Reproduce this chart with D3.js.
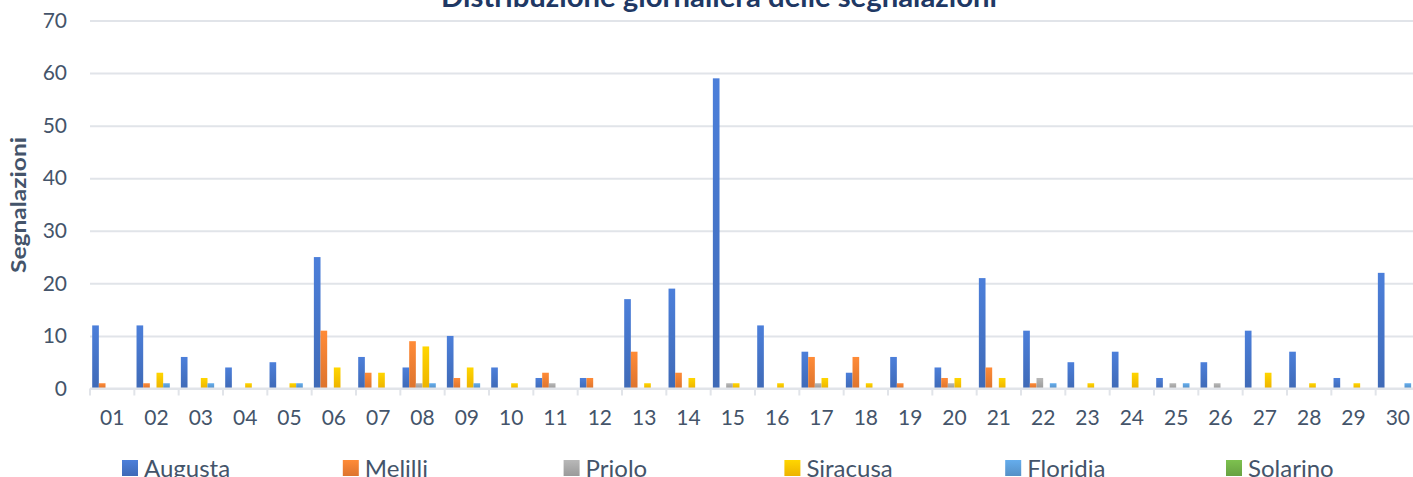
<!DOCTYPE html>
<html>
<head>
<meta charset="utf-8">
<script src="https://cdn.jsdelivr.net/npm/d3@7"></script>
<style>
  body { margin: 0; background: #fff; }
  svg text { font-family: Lato, "Open Sans", sans-serif; }
</style>
</head>
<body>
<script>
// data
var days = ["01","02","03","04","05","06","07","08","09","10","11","12","13","14","15",
            "16","17","18","19","20","21","22","23","24","25","26","27","28","29","30"];
var seriesNames = ["Augusta","Melilli","Priolo","Siracusa","Floridia","Solarino"];
var augusta  = [12,12,6,4,5,25,6,4,10,4,2,2,17,19,59,12,7,3,6,4,21,11,5,7,2,5,11,7,2,22];
var melilli  = [1,1,0,0,0,11,3,9,2,0,3,2,7,3,0,0,6,6,1,2,4,1,0,0,0,0,0,0,0,0];
var priolo   = [0,0,0,0,0,0,0,1,0,0,1,0,0,0,1,0,1,0,0,1,0,2,0,0,1,1,0,0,0,0];
var siracusa = [0,3,2,1,1,4,3,8,4,1,0,0,1,2,1,1,2,1,0,2,2,0,1,3,0,0,3,1,1,0];
var floridia = [0,1,1,0,1,0,0,1,1,0,0,0,0,0,0,0,0,0,0,0,0,1,0,0,1,0,0,0,0,1];
var solarino = [0,0,0,0,0,0,0,0,0,0,0,0,0,0,0,0,0,0,0,0,0,0,0,0,0,0,0,0,0,0];
var yTicks = [0,10,20,30,40,50,60,70];

var values = [augusta, melilli, priolo, siracusa, floridia, solarino];
var colors = ["#4472C4","#ED7D31","#A5A5A5","#FFC000","#5B9BD5","#70AD47"];

var w = 1413, h = 477;
// plot runs a bit past the right edge, as in the picture
var padLeft = 90, padRight = 1420, padTop = 20.5, padBottom = 388.5;

var svg = d3.select("body").append("svg")
            .attr("width", w)
            .attr("height", h);

// gradients like the office bars
var defs = svg.append("defs");
colors.forEach(function(c, i) {
  var g = defs.append("linearGradient")
              .attr("id", "grad" + i)
              .attr("x1", 0).attr("y1", 0).attr("x2", 0).attr("y2", 1);
  g.append("stop").attr("offset", "0%").attr("stop-color", d3.color(c).brighter(0.3));
  g.append("stop").attr("offset", "100%").attr("stop-color", d3.color(c).darker(0.2));
});

var xScale = d3.scaleBand().domain(days).range([padLeft, padRight]).paddingInner(0).paddingOuter(0);
var x1 = d3.scaleBand().domain(d3.range(seriesNames.length))
           .range([0, xScale.bandwidth()]).paddingInner(0).paddingOuter(0.33);
var yScale = d3.scaleLinear().domain([0, 70]).range([padBottom, padTop]);

/****Grid and y axis****/
var yAxis = d3.axisLeft(yScale)
              .tickValues(yTicks)
              .tickSize(-(w - padLeft))
              .tickPadding(23);
var gy = svg.append("g")
            .attr("transform", "translate(" + padLeft + ",0)")
            .call(yAxis);
gy.select(".domain").remove();
gy.selectAll(".tick line").attr("stroke", "#E1E4E9").attr("stroke-width", 2);
gy.selectAll(".tick text")
  .attr("fill", "#44546A")
  .attr("font-size", "21px")
  .attr("font-family", "Lato, sans-serif");

/****Bars****/
var groups = svg.selectAll("g.day")
                .data(days)
                .enter()
                .append("g")
                .attr("class", "day")
                .attr("transform", function(d) { return "translate(" + xScale(d) + ",0)"; });

groups.selectAll("rect")
      .data(function(d, i) {
        return values.map(function(s, k) { return {k: k, v: s[i]}; });
      })
      .enter()
      .append("rect")
      .attr("x", function(d) { return x1(d.k); })
      .attr("y", function(d) { return yScale(d.v); })
      .attr("width", x1.bandwidth())
      .attr("height", function(d) { return yScale(0) - yScale(d.v); })
      .attr("fill", function(d) { return "url(#grad" + d.k + ")"; });

/****x axis****/
var xAxis = d3.axisBottom(xScale).tickSize(0).tickPadding(22);
var gx = svg.append("g")
            .attr("transform", "translate(0," + padBottom + ")")
            .call(xAxis);
gx.select(".domain").attr("stroke", "#E1E4E9").attr("stroke-width", 2)
  .attr("d", "M" + padLeft + ",0H" + w);
gx.selectAll(".tick text")
  .attr("fill", "#44546A")
  .attr("font-size", "21px")
  .attr("font-family", "Lato, sans-serif");
// tick marks between categories
gx.selectAll("line.sep")
  .data(days)
  .enter()
  .append("line")
  .attr("class", "sep")
  .attr("x1", function(d) { return xScale(d); })
  .attr("x2", function(d) { return xScale(d); })
  .attr("y1", 0).attr("y2", 7)
  .attr("stroke", "#E1E4E9").attr("stroke-width", 2);

/****Titles****/
svg.append("text")
   .attr("x", 719).attr("y", 7)
   .attr("text-anchor", "middle")
   .attr("font-size", "28px")
   .attr("font-weight", "bold")
   .attr("fill", "#203864")
   .attr("textLength", 556)
   .attr("lengthAdjust", "spacingAndGlyphs")
   .text("Distribuzione giornaliera delle segnalazioni");

svg.append("text")
   .attr("transform", "translate(26,205) rotate(-90)")
   .attr("text-anchor", "middle")
   .attr("font-size", "21px")
   .attr("font-weight", "bold")
   .attr("fill", "#44546A")
   .attr("textLength", 136)
   .attr("lengthAdjust", "spacingAndGlyphs")
   .text("Segnalazioni");

/****Legend****/
var legX = d3.scaleLinear().domain([0, 5]).range([122, 1226]);
var leg = svg.selectAll("g.leg")
             .data(seriesNames)
             .enter()
             .append("g")
             .attr("class", "leg")
             .attr("transform", function(d, i) { return "translate(" + legX(i) + ",460)"; });
leg.append("rect")
   .attr("width", 16).attr("height", 16)
   .attr("fill", function(d, i) { return "url(#grad" + i + ")"; });
leg.append("text")
   .attr("x", 22).attr("y", 17)
   .attr("font-size", "24px")
   .attr("fill", "#44546A")
   .text(function(d) { return d; });
</script>
</body>
</html>
